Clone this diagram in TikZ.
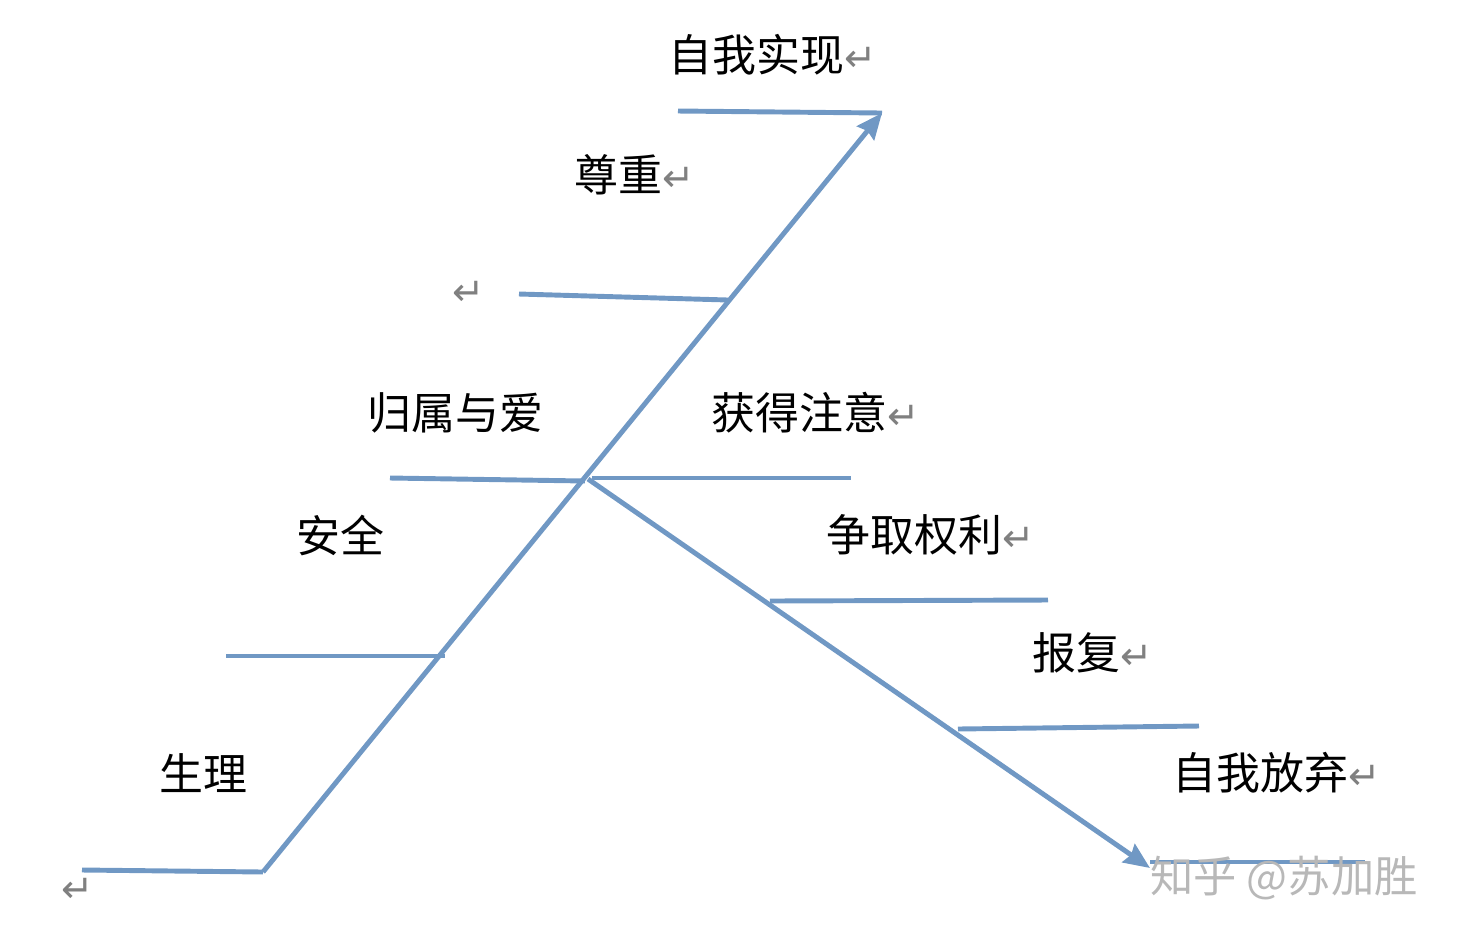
\documentclass[tikz,border=0pt]{standalone}
\usepackage{fontspec}
\setmainfont{Noto Sans CJK SC}
\newfontfamily\symfont{DejaVu Sans}
\usepackage{tikz}
\usetikzlibrary{arrows.meta, positioning}

\definecolor{lineblue}{RGB}{112,152,196}
\definecolor{markgray}{RGB}{128,128,128}
\newcommand{\ret}{{\symfont\color{markgray}\fontsize{11pt}{11pt}\selectfont ↵}}

\begin{document}
\begin{tikzpicture}[
    x=0.01cm, y=-0.01cm,
    bone/.style={draw=lineblue, line width=1.4pt},
    spine/.style={bone, -{Stealth[length=2.6mm, width=2.2mm, inset=0.3mm]}},
    tag/.style={anchor=west, inner sep=0pt, font=\fontsize{12.5pt}{14pt}\selectfont},
    retmark/.style={inner sep=0pt},
    wmark/.style={inner sep=0pt, font=\fontsize{12.3pt}{14pt}\selectfont, text=black!28},
]
\useasboundingbox (0,0) rectangle (1459,938);

% Coordinates
\coordinate (base) at (263,872);
\coordinate (peak) at (882,113);
\coordinate (cross) at (588,479);
\coordinate (low) at (1150,868);

% ============ Labels (left side) ============
\node[tag] (selfreal) at (668,55) {自我实现\ret};
\node[tag] (esteem) at (574,175) {尊重\ret};
\node[retmark] (emptymark) at (469,293) {\ret};
\node[tag] (belong) at (367,413) {归属与爱};
\node[tag] (safety) at (296,535) {安全};
\node[tag] (physio) at (159,773) {生理};
\node[retmark] (basemark) at (78,890) {\ret};

% ============ Labels (right side) ============
\node[tag] (attention) at (711,413) {获得注意\ret};
\node[tag] (power) at (826,535) {争取权利\ret};
\node[tag] (revenge) at (1032,653) {报复\ret};
\node[tag] (giveup) at (1172,773) {自我放弃\ret};

% ============ Lines ============
\draw[bone] (82,870) coordinate (basel) -- (base);
\draw[spine] (base) -- (peak);
\draw[bone] (678,111) coordinate (peakl) -- (peak);
\draw[bone] (519,294) coordinate (esteeml) -- (728,300) coordinate (esteemr);
\draw[bone] (390,478) coordinate (belongl) -- (585,481) coordinate (belongr);
\draw[bone] (226,656) coordinate (safetyl) -- (445,656) coordinate (safetyr);

% Right branch
\draw[bone] (592,478) coordinate (attnl) -- (851,478) coordinate (attnr);
\draw[spine] (cross) -- (low);
\draw[bone] (770,601) coordinate (powerl) -- (1048,600) coordinate (powerr);
\draw[bone] (958,729) coordinate (revengel) -- (1199,726) coordinate (revenger);
\draw[bone] (1150,862) coordinate (giveupl) -- (1365,862) coordinate (giveupr);

% Watermark
\node[wmark, anchor=west] (watermark) at (1150,878) {知乎 @苏加胜};

\end{tikzpicture}
\end{document}
